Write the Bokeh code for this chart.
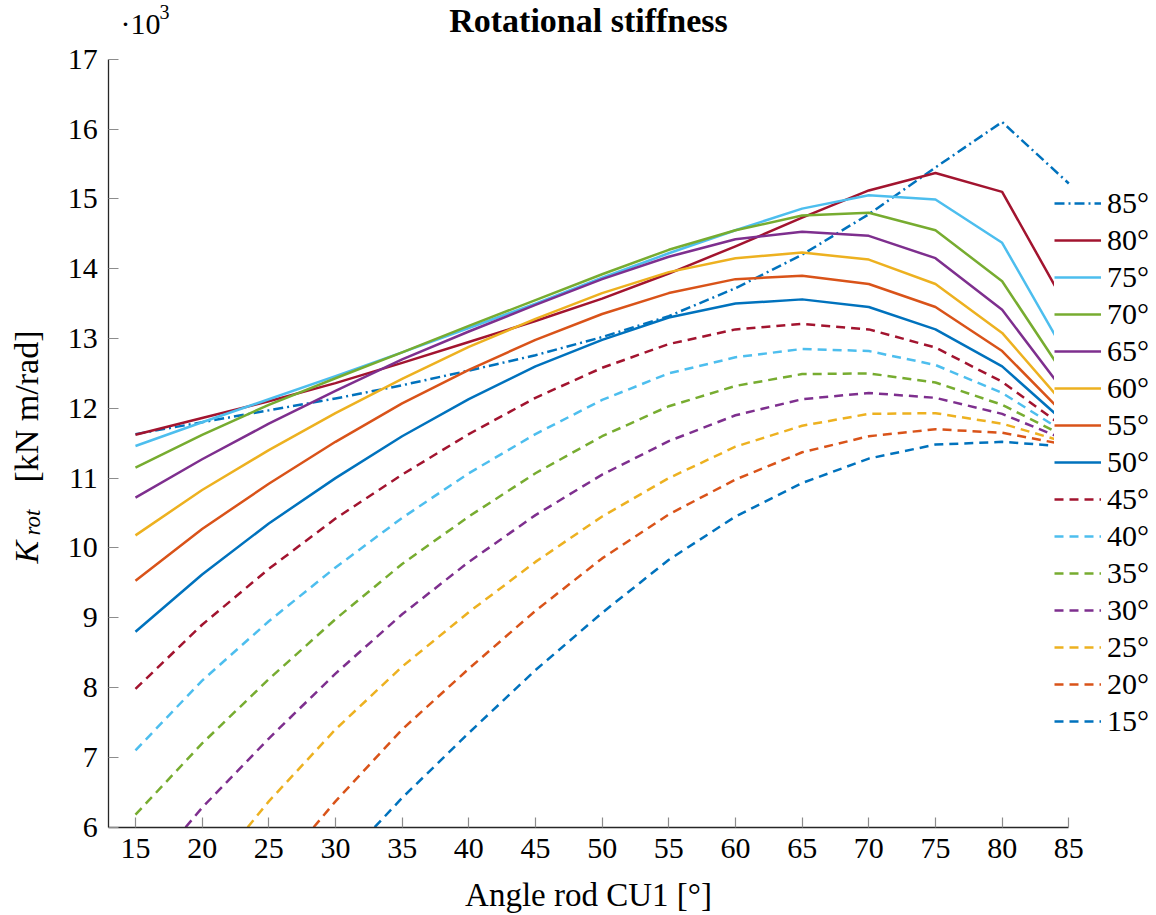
import math
from bokeh.plotting import figure
from bokeh.models import Legend, LegendItem, Label, FixedTicker, Range1d
from bokeh.embed import file_html
from bokeh.resources import INLINE

# ---------------- data ----------------
angle_cu1 = [15, 20, 25, 30, 35, 40, 45, 50, 55, 60, 65, 70, 75, 80, 85]
x_ticks = [15, 20, 25, 30, 35, 40, 45, 50, 55, 60, 65, 70, 75, 80, 85]
y_ticks = [6, 7, 8, 9, 10, 11, 12, 13, 14, 15, 16, 17]

k85 = [11.63, 11.80, 11.97, 12.14, 12.33, 12.54, 12.76, 13.02, 13.32, 13.72, 14.20, 14.78, 15.45, 16.10, 15.22]
k80 = [11.62, 11.86, 12.10, 12.36, 12.65, 12.95, 13.25, 13.57, 13.93, 14.32, 14.73, 15.12, 15.37, 15.10, 13.40]
k75 = [11.46, 11.80, 12.13, 12.46, 12.80, 13.15, 13.50, 13.87, 14.22, 14.55, 14.86, 15.05, 14.99, 14.37, 12.70]
k70 = [11.15, 11.62, 12.05, 12.43, 12.80, 13.18, 13.55, 13.92, 14.27, 14.55, 14.76, 14.80, 14.55, 13.82, 12.38]
k65 = [10.72, 11.27, 11.78, 12.25, 12.70, 13.10, 13.48, 13.85, 14.17, 14.42, 14.53, 14.47, 14.15, 13.41, 12.15]
k60 = [10.18, 10.83, 11.40, 11.93, 12.42, 12.88, 13.28, 13.65, 13.95, 14.15, 14.23, 14.13, 13.78, 13.08, 11.98]
k55 = [9.53, 10.27, 10.92, 11.52, 12.07, 12.55, 12.98, 13.35, 13.65, 13.85, 13.90, 13.78, 13.45, 12.82, 11.85]
k50 = [8.80, 9.62, 10.35, 11.00, 11.60, 12.13, 12.60, 12.98, 13.30, 13.50, 13.56, 13.45, 13.13, 12.60, 11.75]
k45 = [7.98, 8.90, 9.70, 10.42, 11.05, 11.63, 12.15, 12.58, 12.92, 13.13, 13.21, 13.13, 12.87, 12.38, 11.68]
k40 = [7.10, 8.10, 8.95, 9.72, 10.43, 11.07, 11.63, 12.12, 12.50, 12.73, 12.85, 12.82, 12.62, 12.22, 11.62]
k35 = [6.18, 7.20, 8.12, 8.98, 9.77, 10.45, 11.07, 11.60, 12.03, 12.32, 12.49, 12.50, 12.37, 12.05, 11.57]
k30 = [5.15, 6.28, 7.27, 8.20, 9.05, 9.80, 10.47, 11.05, 11.53, 11.90, 12.13, 12.22, 12.15, 11.92, 11.53]
k25 = [4.00, 5.20, 6.37, 7.40, 8.30, 9.08, 9.80, 10.45, 11.00, 11.45, 11.75, 11.92, 11.93, 11.78, 11.50]
k20 = [2.90, 4.10, 5.24, 6.37, 7.40, 8.27, 9.10, 9.85, 10.48, 10.98, 11.37, 11.60, 11.70, 11.65, 11.47]
k15 = [1.90, 3.10, 4.30, 5.40, 6.42, 7.35, 8.25, 9.07, 9.83, 10.45, 10.93, 11.28, 11.48, 11.52, 11.45]

series_labels = ["85°", "80°", "75°", "70°", "65°", "60°", "55°", "50°",
                 "45°", "40°", "35°", "30°", "25°", "20°", "15°"]
series_values = [k85, k80, k75, k70, k65, k60, k55, k50,
                 k45, k40, k35, k30, k25, k20, k15]

BLUE, ORANGE, YELLOW, PURPLE, GREEN, CYAN, RED = (
    "#0072BD", "#D95319", "#EDB120", "#7E2F8E", "#77AC30", "#4DBEEE", "#A2142F")
series_colors = [BLUE, RED, CYAN, GREEN, PURPLE, YELLOW, ORANGE, BLUE,
                 RED, CYAN, GREEN, PURPLE, YELLOW, ORANGE, BLUE]
DASHDOT = "10 4 2 4"
DASH = "9 6"
series_dash = [DASHDOT] + ["solid"] * 7 + [DASH] * 7

X_MIN, X_MAX = 13, 85
Y_MIN, Y_MAX = 6, 17
FONT = "Liberation Serif"

# ---------------- geometry (frame fills the page, axes at fixed locations) ----------------
W, H = 1156, 915
AX_LEFT, AX_RIGHT = 108.3, 1068.3     # pixel of X_MIN / X_MAX
AX_TOP, AX_BOTTOM = 58.7, 826.7       # pixel of Y_MAX / Y_MIN
sx = (AX_RIGHT - AX_LEFT) / (X_MAX - X_MIN)
sy = (AX_BOTTOM - AX_TOP) / (Y_MAX - Y_MIN)
xr = Range1d(X_MIN - AX_LEFT / sx, X_MAX + (W - AX_RIGHT) / sx)
yr = Range1d(Y_MIN - (H - AX_BOTTOM) / sy, Y_MAX + AX_TOP / sy)


def clip_below(xs, ys, ymin):
    """Cut a polyline where it leaves the axis box at the bottom."""
    ox, oy = [], []
    for i, (x, y) in enumerate(zip(xs, ys)):
        if i > 0:
            x0, y0 = xs[i - 1], ys[i - 1]
            if (y0 < ymin) != (y < ymin):
                t = (ymin - y0) / (y - y0)
                ox.append(x0 + t * (x - x0))
                oy.append(ymin)
        if y >= ymin:
            ox.append(x)
            oy.append(y)
    return ox, oy


p = figure(width=W, height=H, output_backend="svg", toolbar_location=None,
           x_range=xr, y_range=yr, min_border=0)
p.title.visible = False
p.outline_line_color = None
p.grid.visible = False
p.background_fill_color = "white"
p.border_fill_color = "white"

for ax in (p.xaxis[0], p.yaxis[0]):
    ax.axis_line_color = "#262626"
    ax.axis_line_width = 1.3
    ax.major_tick_in = 10
    ax.major_tick_out = 0
    ax.major_tick_line_color = "#8c8c8c"
    ax.major_tick_line_width = 1.2
    ax.minor_tick_line_color = None
    ax.major_label_text_font = FONT
    ax.major_label_text_font_size = "30px"
    ax.major_label_text_color = "black"

p.xaxis.fixed_location = Y_MIN
p.yaxis.fixed_location = X_MIN
p.xaxis.bounds = (X_MIN, X_MAX)
p.yaxis.bounds = (Y_MIN, Y_MAX)
p.xaxis.ticker = FixedTicker(ticks=x_ticks)
p.yaxis.ticker = FixedTicker(ticks=y_ticks)
p.xaxis.major_label_standoff = 12
p.yaxis.major_label_standoff = 11
p.xaxis.axis_label = "Angle rod CU1 [°]"
p.xaxis.axis_label_text_font = FONT
p.xaxis.axis_label_text_font_size = "33px"
p.xaxis.axis_label_text_font_style = "normal"
p.xaxis.axis_label_text_color = "black"
p.xaxis.axis_label_standoff = 15

# ---------------- lines ----------------
items = []
for lab_txt, vals, col, dash in zip(series_labels, series_values, series_colors, series_dash):
    cx, cy = clip_below(angle_cu1, vals, Y_MIN)
    r = p.line(cx, cy, line_color=col, line_width=2.5, line_dash=dash,
               line_join="round")
    items.append(LegendItem(label=lab_txt, renderers=[r]))

legend = Legend(items=items, location=(1054, 177),
                label_text_font=FONT, label_text_font_size="30px",
                label_text_color="black",
                glyph_width=47, glyph_height=34, label_height=34,
                spacing=3, padding=8, margin=0, label_standoff=6,
                background_fill_color="white", background_fill_alpha=1.0,
                border_line_color=None)
p.add_layout(legend)

# ---------------- title, y label (K_rot [kN m/rad]) and exponent ----------------
def lab(**kw):
    base = dict(x_units="screen", y_units="screen", text_font=FONT,
                text_color="black", text_align="left", text_baseline="alphabetic")
    base.update(kw)
    p.add_layout(Label(**base))


lab(x=588, y=H - 20, text="Rotational stiffness", text_font_size="34px",
    text_font_style="bold", text_align="center")

ang = math.pi / 2
lab(x=26, y=352, text="K", angle=ang, text_font_size="34px", text_font_style="italic")
lab(x=32, y=380, text="rot", angle=ang, text_font_size="23px", text_font_style="italic")
lab(x=26, y=585, text="[kN m/rad]", angle=ang, text_font_size="34px", text_align="right")

lab(x=120, y=H - 23, text="·10", text_font_size="30px")
lab(x=159, y=H - 11, text="3", text_font_size="20px")

open("out.html", "w").write(file_html(p, INLINE))
